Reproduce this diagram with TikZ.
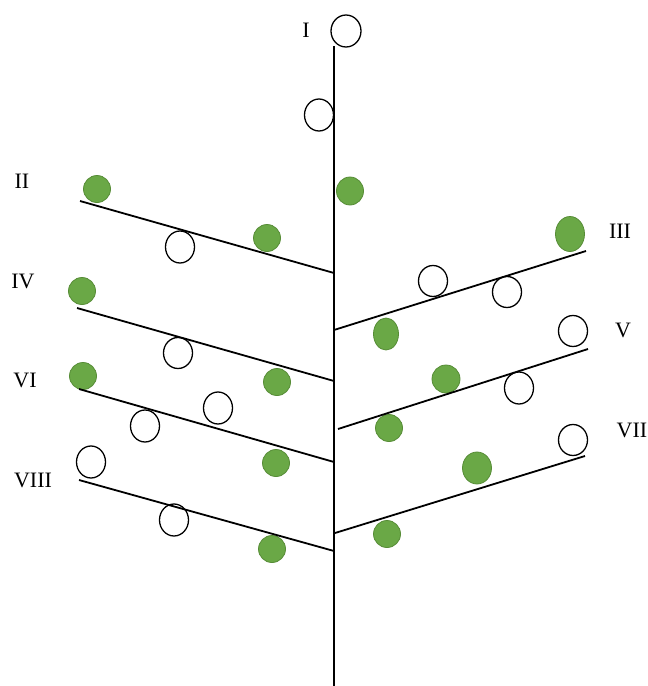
\documentclass[tikz,border=0pt]{standalone}
\usepackage{fontspec}
\setmainfont{Liberation Serif}
\usetikzlibrary{shapes.geometric}
\definecolor{leafgreen}{RGB}{106,168,70}
\definecolor{leafedge}{RGB}{86,140,54}
\begin{document}
\begin{tikzpicture}[x=1pt,y=-1pt,
  open/.style={ellipse,draw=black,line width=1.3pt,inner sep=0pt,minimum width=29pt,minimum height=31pt},
  leaf/.style={ellipse,draw=leafedge,line width=0.8pt,fill=leafgreen,inner sep=0pt,minimum width=27pt,minimum height=27pt},
  branch/.style={line width=1.8pt,black},
  lab/.style={font=\fontsize{22}{26}\selectfont,inner sep=0pt}]
\useasboundingbox (0,0) rectangle (648,686);
% labels
\node[lab] (lI) at (306,30) {I};
\node[lab] (lII) at (22,181) {II};
\node[lab] (lIII) at (620,231) {III};
\node[lab] (lIV) at (23,281) {IV};
\node[lab] (lV) at (623,330) {V};
\node[lab] (lVI) at (25,380) {VI};
\node[lab] (lVII) at (632,430) {VII};
\node[lab] (lVIII) at (33,480) {VIII};
% main stem
\node[open,minimum width=30pt,minimum height=32pt] (top) at (346,31) {};
\node[open,minimum height=32pt] (o2) at (319,115) {};
\node[leaf,minimum height=28pt] (g1) at (350,191) {};
% branch II
\node[leaf] (gII1) at (97,189) {};
\node[open,minimum height=32pt] (oII1) at (180,247) {};
\node[leaf] (gII2) at (267,238) {};
% branch IV
\node[leaf] (gIV1) at (82,291) {};
\node[open] (oIV1) at (178,353) {};
\node[leaf] (gIV2) at (277,382) {};
% branch VI
\node[leaf] (gVI1) at (83,376) {};
\node[open,minimum height=32pt] (oVI1) at (145,426) {};
\node[open,minimum height=32pt] (oVI2) at (218,408) {};
\node[leaf] (gVI2) at (276,463) {};
% branch VIII
\node[open,minimum height=32pt] (oVIII1) at (91,462) {};
\node[open,minimum height=32pt] (oVIII2) at (174,520) {};
\node[leaf] (gVIII1) at (272,549) {};
% branch III
\node[leaf,minimum width=29pt,minimum height=35pt] (gIII1) at (570,234) {};
\node[open] (oIII1) at (433,281) {};
\node[open] (oIII2) at (507,292) {};
\node[leaf,minimum width=25pt,minimum height=32pt] (gIII2) at (386,334) {};
% branch V
\node[open] (oV1) at (573,331) {};
\node[leaf,minimum width=28pt,minimum height=28pt] (gV1) at (446,379) {};
\node[open,minimum height=32pt] (oV2) at (519,388) {};
\node[leaf] (gV2) at (389,428) {};
% branch VII
\node[open] (oVII1) at (573,440) {};
\node[leaf,minimum width=29pt,minimum height=32pt] (gVII1) at (477,468) {};
\node[leaf] (gVII2) at (387,534) {};
% coordinates
\coordinate (stemtop) at (334,46);
\coordinate (stembot) at (334,686);
\coordinate (IIa) at (80,201);   \coordinate (IIb) at (334,273);
\coordinate (IVa) at (77,308);   \coordinate (IVb) at (334,381);
\coordinate (VIa) at (79,389);   \coordinate (VIb) at (334,462);
\coordinate (VIIIa) at (79,480); \coordinate (VIIIb) at (334,551);
\coordinate (IIIa) at (334,330); \coordinate (IIIb) at (586,251);
\coordinate (Va) at (338,429);   \coordinate (Vb) at (588,349);
\coordinate (VIIa) at (335,533); \coordinate (VIIb) at (585,456);
% lines
\draw[branch] (stemtop) -- (stembot);
\draw[branch] (IIa) -- (IIb);
\draw[branch] (IVa) -- (IVb);
\draw[branch] (VIa) -- (VIb);
\draw[branch] (VIIIa) -- (VIIIb);
\draw[branch] (IIIa) -- (IIIb);
\draw[branch] (Va) -- (Vb);
\draw[branch] (VIIa) -- (VIIb);
\end{tikzpicture}
\end{document}
